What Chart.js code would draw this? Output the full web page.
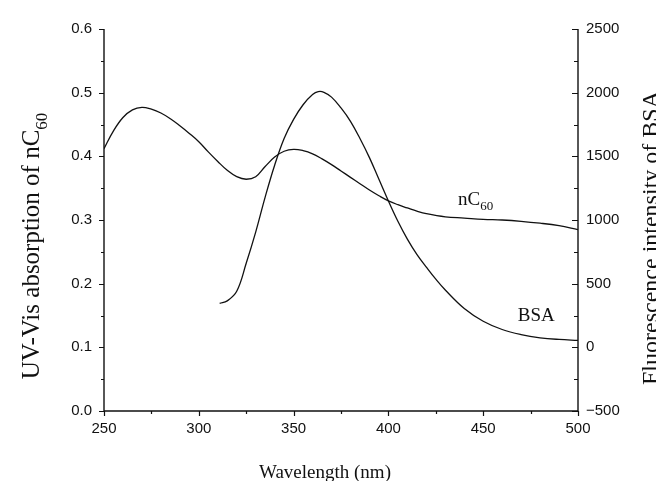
<!DOCTYPE html>
<html>
<head>
<meta charset="utf-8">
<script src="https://cdn.jsdelivr.net/npm/chart.js@4"></script>
<style>
  html, body { margin: 0; padding: 0; background: #fff; }
  #wrap { width: 656px; height: 481px; }
</style>
</head>
<body>
<div id="wrap"><canvas id="chart" width="656" height="481"></canvas></div>
<script>
// nC60 absorption (left axis)
const nc60Wavelength = [250, 255, 260, 265, 270, 275, 280, 285, 290, 295, 300, 305, 310, 315, 320, 325, 330, 335, 340, 345, 350, 355, 360, 365, 370, 375, 380, 385, 390, 395, 400, 405, 410, 415, 420, 430, 440, 450, 460, 470, 480, 490, 500];
const nc60Absorbance = [0.412, 0.440, 0.461, 0.473, 0.477, 0.474, 0.468, 0.459, 0.448, 0.436, 0.423, 0.407, 0.392, 0.378, 0.368, 0.364, 0.368, 0.384, 0.399, 0.408, 0.411, 0.409, 0.404, 0.396, 0.387, 0.377, 0.367, 0.357, 0.347, 0.338, 0.330, 0.324, 0.319, 0.314, 0.310, 0.305, 0.303, 0.301, 0.300, 0.298, 0.295, 0.291, 0.285];

// BSA fluorescence (right axis)
const bsaWavelength = [311, 315, 320, 325, 330, 335, 340, 345, 350, 355, 360, 363, 366, 370, 375, 380, 385, 390, 395, 400, 405, 410, 415, 420, 425, 430, 440, 450, 460, 470, 480, 490, 500];
const bsaIntensity = [345, 365, 440, 660, 905, 1180, 1430, 1640, 1790, 1905, 1985, 2008, 2003, 1965, 1880, 1775, 1640, 1490, 1320, 1150, 990, 850, 730, 630, 535, 450, 305, 205, 140, 100, 75, 62, 55];

const xTicks = [250, 300, 350, 400, 450, 500];
const leftTicks = [0, 0.1, 0.2, 0.3, 0.4, 0.5, 0.6];
const rightTicks = [-500, 0, 500, 1000, 1500, 2000, 2500];

const ink = "#111";
const tickFont = { family: "Liberation Sans", size: 15 };
const serif = '"Liberation Serif"';

function pts(xs, ys) {
  return xs.map((x, i) => ({ x: x, y: ys[i] }));
}

// draws a string with an optional subscript part, centered at 0,0 of the current transform
function drawRich(ctx, parts, size) {
  let total = 0;
  parts.forEach(p => {
    ctx.font = (p.sub ? Math.round(size * 0.68) : size) + "px " + serif;
    p.w = ctx.measureText(p.t).width;
    total += p.w;
  });
  let x = -total / 2;
  ctx.textBaseline = "alphabetic";
  ctx.textAlign = "left";
  parts.forEach(p => {
    ctx.font = (p.sub ? Math.round(size * 0.68) : size) + "px " + serif;
    ctx.fillText(p.t, x, p.sub ? size * 0.3 : 0);
    x += p.w;
  });
}

const axesPlugin = {
  id: "axesPlugin",
  afterDraw(chart) {
    const ctx = chart.ctx;
    const a = chart.chartArea;
    const sx = chart.scales.x, sy = chart.scales.y, sy2 = chart.scales.y2;
    ctx.save();
    ctx.strokeStyle = ink;
    ctx.fillStyle = ink;
    ctx.lineWidth = 1.4;
    ctx.beginPath();
    ctx.moveTo(a.left, a.top); ctx.lineTo(a.left, a.bottom); ctx.lineTo(a.right, a.bottom);
    ctx.moveTo(a.right, a.top); ctx.lineTo(a.right, a.bottom);
    ctx.stroke();

    ctx.lineWidth = 1.2;
    ctx.beginPath();
    // bottom ticks, outward
    for (let v = 250; v <= 500; v += 25) {
      const px = Math.round(sx.getPixelForValue(v)) + 0.5;
      const len = v % 50 === 0 ? 5 : 3;
      ctx.moveTo(px, a.bottom); ctx.lineTo(px, a.bottom + len);
    }
    // left ticks, outward
    for (let i = 0; i <= 12; i++) {
      const py = Math.round(sy.getPixelForValue(i * 0.05)) + 0.5;
      const len = i % 2 === 0 ? 5 : 3;
      ctx.moveTo(a.left, py); ctx.lineTo(a.left - len, py);
    }
    // right ticks, inward
    for (let v = -500; v <= 2500; v += 250) {
      const py = Math.round(sy2.getPixelForValue(v)) + 0.5;
      const len = v % 500 === 0 ? 6 : 4;
      ctx.moveTo(a.right, py); ctx.lineTo(a.right - len, py);
    }
    ctx.stroke();

    // axis titles
    ctx.font = "19px " + serif;
    ctx.textAlign = "center";
    ctx.textBaseline = "alphabetic";
    ctx.fillText("Wavelength (nm)", 325, 478);

    ctx.save();
    ctx.translate(39, 246);
    ctx.rotate(-Math.PI / 2);
    drawRich(ctx, [{ t: "UV-Vis absorption of nC" }, { t: "60", sub: true }], 25);
    ctx.restore();

    ctx.save();
    ctx.translate(658, 238);
    ctx.rotate(-Math.PI / 2);
    drawRich(ctx, [{ t: "Fluorescence intensity of BSA" }], 24);
    ctx.restore();

    // curve labels
    ctx.save();
    ctx.translate(sx.getPixelForValue(446), sy.getPixelForValue(0.324));
    drawRich(ctx, [{ t: "nC" }, { t: "60", sub: true }], 19);
    ctx.restore();
    ctx.save();
    ctx.translate(sx.getPixelForValue(478), sy.getPixelForValue(0.141));
    drawRich(ctx, [{ t: "BSA" }], 19);
    ctx.restore();

    ctx.restore();
  }
};

new Chart(document.getElementById("chart"), {
  type: "line",
  data: {
    datasets: [
      {
        label: "nC60",
        data: pts(nc60Wavelength, nc60Absorbance),
        yAxisID: "y",
        borderColor: ink,
        borderWidth: 1.3,
        pointRadius: 0,
        tension: 0.4,
        fill: false
      },
      {
        label: "BSA",
        data: pts(bsaWavelength, bsaIntensity),
        yAxisID: "y2",
        borderColor: ink,
        borderWidth: 1.3,
        pointRadius: 0,
        tension: 0.4,
        fill: false
      }
    ]
  },
  options: {
    responsive: false,
    animation: false,
    events: [],
    layout: { padding: { top: 29, left: 0, right: 0, bottom: 0 } },
    plugins: { legend: { display: false }, tooltip: { enabled: false } },
    scales: {
      x: {
        type: "linear",
        min: 250, max: 500,
        afterBuildTicks: s => { s.ticks = xTicks.map(v => ({ value: v })); },
        ticks: { color: ink, font: tickFont, padding: 9, autoSkip: false, maxRotation: 0, callback: v => String(v) },
        grid: { display: false, drawTicks: false },
        border: { display: false },
        afterFit: s => { s.height = 70; }
      },
      y: {
        type: "linear",
        position: "left",
        min: 0, max: 0.6,
        afterBuildTicks: s => { s.ticks = leftTicks.map(v => ({ value: v })); },
        ticks: { color: ink, font: tickFont, padding: 12, callback: v => v.toFixed(1) },
        grid: { display: false, drawTicks: false },
        border: { display: false },
        afterFit: s => { s.width = 104; }
      },
      y2: {
        type: "linear",
        position: "right",
        min: -500, max: 2500,
        afterBuildTicks: s => { s.ticks = rightTicks.map(v => ({ value: v })); },
        ticks: { color: ink, font: tickFont, padding: 8, callback: v => (v < 0 ? "\u2212" + Math.abs(v) : String(v)) },
        grid: { display: false, drawTicks: false },
        border: { display: false },
        afterFit: s => { s.width = 78; }
      }
    }
  },
  plugins: [axesPlugin]
});
</script>
</body>
</html>
